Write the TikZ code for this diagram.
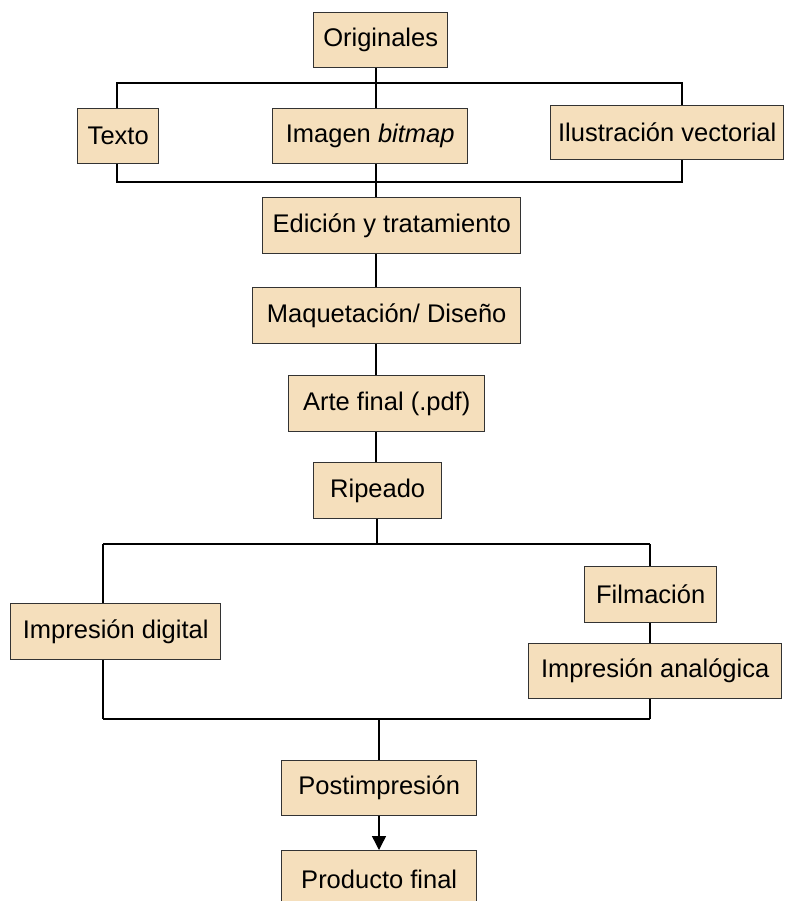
\documentclass[tikz,border=0pt]{standalone}
\usepackage{fontspec}
\setmainfont{Liberation Sans}
\usetikzlibrary{arrows.meta}
\definecolor{boxfill}{HTML}{F5DFBC}
\definecolor{boxline}{HTML}{333333}
\begin{document}
\begin{tikzpicture}[x=1pt,y=-1pt,
  stepbox/.style={draw=boxline,fill=boxfill,line width=1.4pt,inner sep=0pt,
    font=\fontsize{25.5}{28}\selectfont,anchor=north west},
  conn/.style={line width=1.4pt,black}]
\useasboundingbox (0,0) rectangle (784,901);
% boxes (pixel coordinates, top-left corner)
\node[stepbox,minimum width=134pt,minimum height=55pt] (orig) at (313,12) {Originales};
\node[stepbox,minimum width=81pt,minimum height=55pt] (texto) at (77,108) {Texto};
\node[stepbox,minimum width=195pt,minimum height=55pt] (imagen) at (272,108) {Imagen \textit{bitmap}};
\node[stepbox,minimum width=233pt,minimum height=54pt] (ilu) at (550,105) {Ilustración vectorial};
\node[stepbox,minimum width=258pt,minimum height=56pt] (edic) at (262,197) {Edición y tratamiento};
\node[stepbox,minimum width=268pt,minimum height=56pt] (maq) at (252,287) {Maquetación/ Diseño};
\node[stepbox,minimum width=196pt,minimum height=56pt] (arte) at (288,375) {Arte final (.pdf)};
\node[stepbox,minimum width=128pt,minimum height=56pt] (rip) at (313,462) {Ripeado};
\node[stepbox,minimum width=132pt,minimum height=56pt] (film) at (584,566) {Filmación};
\node[stepbox,minimum width=210pt,minimum height=56pt] (dig) at (10,603) {Impresión digital};
\node[stepbox,minimum width=253pt,minimum height=55pt] (ana) at (528,643) {Impresión analógica};
\node[stepbox,minimum width=195pt,minimum height=55pt] (post) at (281,760) {Postimpresión};
\node[stepbox,minimum width=195pt,minimum height=58pt] (prod) at (281,850) {Producto final};
% junction coordinates
\coordinate (tl) at (117,83);
\coordinate (tr) at (682,83);
\coordinate (bl) at (117,182);
\coordinate (br) at (682,182);
\coordinate (ml) at (103,544);
\coordinate (mr) at (650,544);
\coordinate (nl) at (103,719);
\coordinate (nr) at (650,719);
% top bracket
\draw[conn] (orig.south -| 376,0) -- (imagen.north -| 376,0);
\draw[conn] (texto.north -| tl) -- (tl) -- (tr) -- (ilu.north -| tr);
\draw[conn] (texto.south -| bl) -- (bl) -- (br) -- (ilu.south -| br);
\draw[conn] (imagen.south -| 376,0) -- (edic.north -| 376,0);
% main chain
\draw[conn] (edic.south -| 376,0) -- (maq.north -| 376,0);
\draw[conn] (maq.south -| 376,0) -- (arte.north -| 376,0);
\draw[conn] (arte.south -| 376,0) -- (rip.north -| 376,0);
\draw[conn] (rip.south -| 377,0) -- (ml -| 377,0);
% split
\draw[conn] (ml) -- (mr);
\draw[conn] (ml) -- (dig.north -| ml);
\draw[conn] (dig.south -| nl) -- (nl);
\draw[conn] (mr) -- (film.north -| mr);
\draw[conn] (film.south -| mr) -- (ana.north -| mr);
\draw[conn] (ana.south -| nr) -- (nr);
\draw[conn] (nl) -- (nr);
\draw[conn] (nl -| 379,0) -- (post.north -| 379,0);
\draw[conn,-{Triangle[length=14pt,width=14pt]}] (post.south -| 379,0) -- (prod.north -| 379,0);
\end{tikzpicture}
\end{document}
